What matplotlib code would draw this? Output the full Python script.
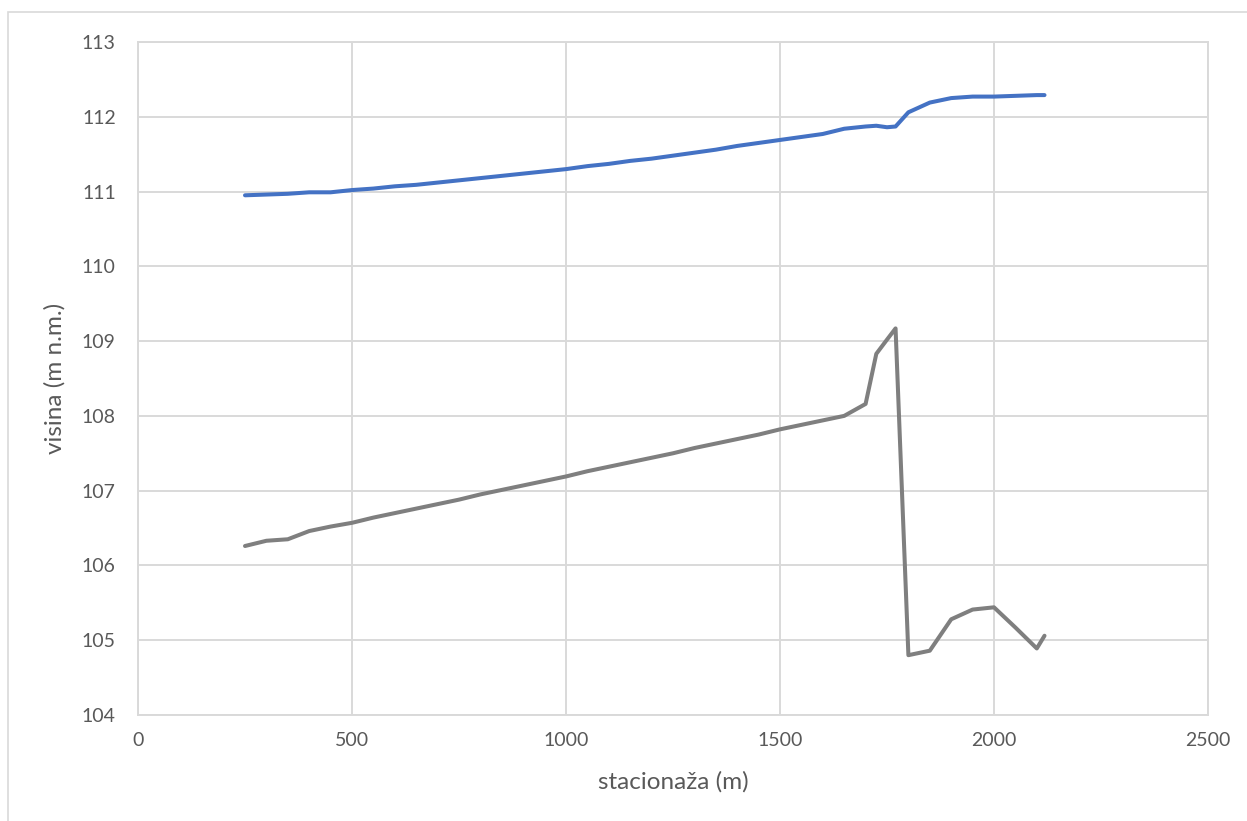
import matplotlib
matplotlib.use("Agg")
import matplotlib.pyplot as plt
from matplotlib.patches import Rectangle

# Station (m) along the profile
stationing = [250, 300, 350, 400, 450, 500, 550, 600, 650, 700, 750, 800, 850,
              900, 950, 1000, 1050, 1100, 1150, 1200, 1250, 1300, 1350, 1400,
              1450, 1500, 1550, 1600, 1650, 1700, 1725, 1750, 1770, 1800, 1850,
              1900, 1950, 2000, 2050, 2100, 2118]

# Water surface level (m a.s.l.)
water_level = [110.95, 110.96, 110.97, 110.99, 110.99, 111.02, 111.04, 111.07,
               111.09, 111.12, 111.15, 111.18, 111.21, 111.24, 111.27, 111.30,
               111.34, 111.37, 111.41, 111.44, 111.48, 111.52, 111.56, 111.61,
               111.65, 111.69, 111.73, 111.77, 111.84, 111.87, 111.88, 111.86,
               111.87, 112.06, 112.19, 112.25, 112.27, 112.27, 112.28, 112.29,
               112.29]

# Bed level (m a.s.l.)
bed_level = [106.26, 106.33, 106.35, 106.46, 106.52, 106.57, 106.64, 106.70,
             106.76, 106.82, 106.88, 106.95, 107.01, 107.07, 107.13, 107.19,
             107.26, 107.32, 107.38, 107.44, 107.50, 107.57, 107.63, 107.69,
             107.75, 107.82, 107.88, 107.94, 108.00, 108.16, 108.83, 109.02,
             109.17, 104.80, 104.86, 105.28, 105.41, 105.44, 105.17, 104.89,
             105.06]

x_ticks = [0, 500, 1000, 1500, 2000, 2500]
y_ticks = [104, 105, 106, 107, 108, 109, 110, 111, 112, 113]

TEXT = "#595959"
GRID = "#d9d9d9"
FONT = "Lato"

fig = plt.figure(figsize=(12.47, 8.21), dpi=100)
fig.patch.set_facecolor("white")

# outer chart frame (left and top edges visible)
fig.add_artist(Rectangle((8 / 1247, -0.05), 1.2, 1 - 12 / 821 + 0.05,
                         transform=fig.transFigure, fill=False,
                         edgecolor=GRID, linewidth=1.2))

ax = fig.add_axes([138 / 1247, 1 - 715 / 821, (1208 - 138) / 1247, (715 - 42) / 821])

ax.plot(stationing, water_level, color="#4472c4", linewidth=2.9,
        solid_joinstyle="round", solid_capstyle="round", zorder=3)
ax.plot(stationing, bed_level, color="#7f7f7f", linewidth=2.9,
        solid_joinstyle="round", solid_capstyle="round", zorder=3)

ax.set_xlim(x_ticks[0], x_ticks[-1])
ax.set_ylim(y_ticks[0], y_ticks[-1])
ax.set_xticks(x_ticks)
ax.set_yticks(y_ticks)
ax.set_xticklabels([str(t) for t in x_ticks], fontsize=14, color=TEXT, family=FONT)
ax.set_yticklabels([str(t) for t in y_ticks], fontsize=14, color=TEXT, family=FONT)
ax.tick_params(length=0, pad=12)
ax.tick_params(axis="y", pad=16)

ax.grid(True, color=GRID, linewidth=1.4)
ax.set_axisbelow(True)
for s in ax.spines.values():
    s.set_color(GRID)
    s.set_linewidth(1.4)

ax.set_xlabel("stacionaža (m)", fontsize=17.5, color=TEXT, family=FONT, labelpad=16)
ax.set_ylabel("visina (m n.m.)", fontsize=17.5, color=TEXT, family=FONT, labelpad=12)

fig.savefig("out.png", dpi=100, facecolor="white")
